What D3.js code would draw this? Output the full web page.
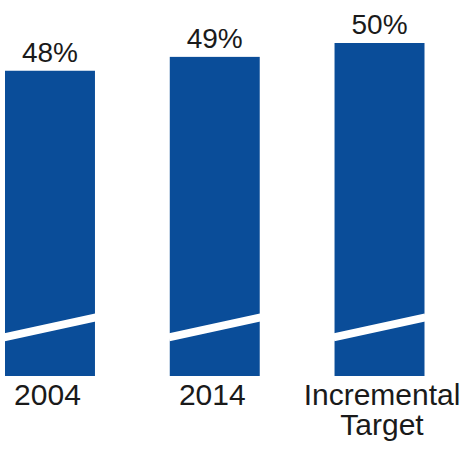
<!DOCTYPE html>
<html>
<head>
<meta charset="utf-8">
<script src="https://cdn.jsdelivr.net/npm/d3@7"></script>
<style>
  html, body { margin: 0; padding: 0; background: #fff; }
  svg { display: block; }
</style>
</head>
<body>
<svg id="chart" width="462" height="451"></svg>
<script>
const categories = ["2004", "2014", "Incremental Target"];
const categoryLines = [["2004"], ["2014"], ["Incremental", "Target"]];
const values = [48, 49, 50];
const valueLabels = ["48%", "49%", "50%"];
const axisBreakValue = 29.5;

const svg = d3.select("#chart");
const barColor = "#0A4D99";
const textColor = "#1a1a1a";
const font = "'Liberation Sans', Arial, sans-serif";

const x = d3.scaleBand()
  .domain(categories)
  .range([5, 424.5])
  .paddingInner(0.454)
  .paddingOuter(0);

const y = d3.scaleLinear()
  .domain([26, 50])
  .range([376, 43]);

const g = svg.append("g");

g.selectAll("rect.bar")
  .data(values)
  .join("rect")
  .attr("class", "bar")
  .attr("x", (d, i) => x(categories[i]))
  .attr("y", d => y(d))
  .attr("width", x.bandwidth())
  .attr("height", d => y.range()[0] - y(d))
  .attr("fill", barColor);

// axis-break slashes
const yb = y(axisBreakValue);
g.selectAll("line.brk")
  .data(values)
  .join("line")
  .attr("class", "brk")
  .attr("x1", (d, i) => x(categories[i]) - 1)
  .attr("x2", (d, i) => x(categories[i]) + x.bandwidth() + 1)
  .attr("y1", yb + 10)
  .attr("y2", yb - 10)
  .attr("stroke", "#fff")
  .attr("stroke-width", 8);

// value labels
g.selectAll("text.val")
  .data(values)
  .join("text")
  .attr("class", "val")
  .attr("x", (d, i) => x(categories[i]) + x.bandwidth() / 2)
  .attr("y", d => y(d) - 9)
  .attr("text-anchor", "middle")
  .attr("font-family", font)
  .attr("font-size", 28)
  .attr("fill", textColor)
  .text((d, i) => valueLabels[i]);

// category labels
const cat = g.selectAll("text.cat")
  .data(categories)
  .join("text")
  .attr("class", "cat")
  .attr("x", d => x(d) + x.bandwidth() / 2)
  .attr("y", 405)
  .attr("text-anchor", "middle")
  .attr("font-family", font)
  .attr("font-size", 30)
  .attr("fill", textColor);

cat.each(function(d, i) {
  const t = d3.select(this);
  categoryLines[i].forEach((line, j) => {
    t.append("tspan")
      .attr("x", x(d) + x.bandwidth() / 2 + (categoryLines[i].length > 1 ? 2.5 : -2.5))
      .attr("dy", j === 0 ? 0 : 30)
      .text(line);
  });
});
</script>
</body>
</html>
